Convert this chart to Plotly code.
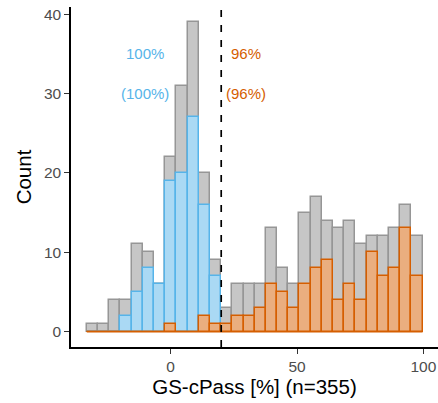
import plotly.graph_objects as go

# ---- data ----
bin_start = -33.2      # left edge of the first bin (GS-cPass %)
bin_width = 4.43       # bin width (GS-cPass %)
threshold = 20         # dashed cut-off line

total_counts = [1, 1, 4, 4, 11, 10, 6, 22, 31, 39, 20, 9,
                3, 6, 6, 6, 13, 8, 6, 15, 17, 14, 13, 14, 11, 12, 12, 13, 16, 12]
blue_counts = [0, 0, 0, 2, 5, 8, 6, 19, 20, 27, 16, 7,
               0, 0, 0, 0, 0, 0, 0, 0, 0, 0, 0, 0, 0, 0, 0, 0, 0, 0]
orange_counts = [0, 0, 0, 0, 0, 0, 0, 1, 0, 0, 2, 1,
                 1, 2, 2, 3, 6, 5, 3, 6, 8, 9, 4, 6, 4, 10, 7, 8, 13, 7]

labels_blue = ["100%", "(100%)"]
labels_orange = ["96%", "(96%)"]
label_x_blue = -10
label_x_orange = 30
label_y = [35, 30]

x_title = "GS-cPass [%] (n=355)"
y_title = "Count"
x_ticks = [0, 50, 100]
y_ticks = [0, 10, 20, 30, 40]

# ---- derived ----
n_bins = len(total_counts)
centers = [bin_start + bin_width * (i + 0.5) for i in range(n_bins)]
first_edge = bin_start
last_edge = bin_start + bin_width * n_bins

GRAY_FILL, GRAY_LINE = "#C6C6C6", "#969696"
BLUE_FILL, BLUE_LINE = "#AAD9F4", "#56B4E9"
ORANGE_FILL, ORANGE_LINE = "#EAAE7F", "#D55E00"
FONT = "Liberation Sans, Arial, Helvetica, sans-serif"

fig = go.Figure()
fig.add_trace(go.Bar(x=centers, y=total_counts, width=bin_width,
                     marker=dict(color=GRAY_FILL, line=dict(color=GRAY_LINE, width=1.5)),
                     showlegend=False))
fig.add_trace(go.Bar(x=centers, y=blue_counts, width=bin_width,
                     marker=dict(color=BLUE_FILL, line=dict(color=BLUE_LINE, width=1.5)),
                     showlegend=False))
fig.add_trace(go.Bar(x=centers, y=orange_counts, width=bin_width,
                     marker=dict(color=ORANGE_FILL, line=dict(color=ORANGE_LINE, width=1.5)),
                     showlegend=False))
# zero-count baseline (empty bins drawn as flat outline)
fig.add_trace(go.Scatter(x=[first_edge, last_edge], y=[0, 0], mode="lines",
                         line=dict(color=ORANGE_LINE, width=1.5),
                         showlegend=False, hoverinfo="skip"))

fig.add_shape(type="line", x0=threshold, x1=threshold, y0=0, y1=1,
              xref="x", yref="paper",
              line=dict(color="black", width=1.7, dash="7px,8px"))

for txt, y in zip(labels_blue, label_y):
    fig.add_annotation(x=label_x_blue, y=y, text=txt, showarrow=False,
                       font=dict(color=BLUE_LINE, size=15, family=FONT))
for txt, y in zip(labels_orange, label_y):
    fig.add_annotation(x=label_x_orange, y=y, text=txt, showarrow=False,
                       font=dict(color=ORANGE_LINE, size=15, family=FONT))

fig.update_layout(
    width=438, height=403,
    margin=dict(l=71, r=0, t=7, b=56),
    barmode="overlay", bargap=0,
    plot_bgcolor="white", paper_bgcolor="white",
    font=dict(family=FONT),
)
fig.update_xaxes(range=[-39.45, 105.8], tickvals=x_ticks,
                 showline=True, linecolor="black", linewidth=1.5,
                 ticks="outside", ticklen=5, tickwidth=1.2, tickcolor="#333333",
                 tickfont=dict(size=15.5, color="#4D4D4D"),
                 showgrid=False, zeroline=False,
                 title=dict(text=x_title, font=dict(size=20.5, color="black"), standoff=5))
fig.update_yaxes(range=[-1.93, 40.9], tickvals=y_ticks,
                 showline=True, linecolor="black", linewidth=1.5,
                 ticks="outside", ticklen=5, tickwidth=1.2, tickcolor="#333333",
                 tickfont=dict(size=15.5, color="#4D4D4D"),
                 showgrid=False, zeroline=False,
                 title=dict(text=y_title, font=dict(size=20.5, color="black"), standoff=7))

fig.write_html("out.html")
